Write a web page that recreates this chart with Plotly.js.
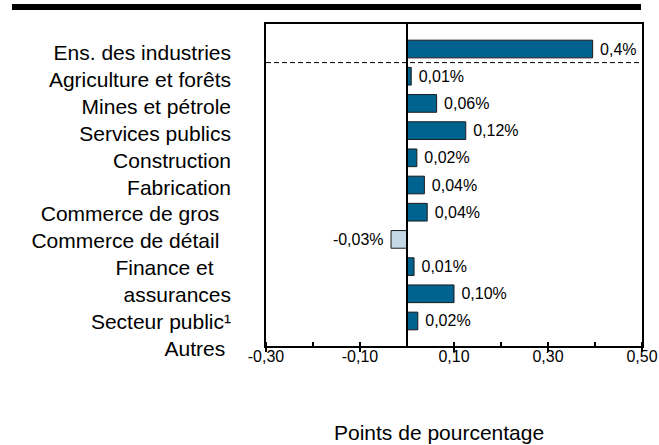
<!DOCTYPE html>
<html><head><meta charset="utf-8">
<script src="https://cdn.plot.ly/plotly-3.0.1.min.js"></script>
<style>html,body{margin:0;padding:0;background:#fff}#chart{width:659px;height:445px}</style>
</head><body><div id="chart"></div>
<script>
const rowLabels = ["Ens. des industries","Agriculture et forêts","Mines et pétrole","Services publics","Construction","Fabrication","Commerce de gros\u00a0\u00a0","Commerce de détail\u00a0\u00a0","Finance et\u00a0\u00a0\u00a0","assurances","Secteur public¹","Autres\u00a0"];
const barValues = [0.395, 0.009, 0.063, 0.125, 0.021, 0.037, 0.043, -0.034, 0.015, 0.100, 0.023];
const barLabels = ["0,4%","0,01%","0,06%","0,12%","0,02%","0,04%","0,04%","-0,03%","0,01%","0,10%","0,02%"];
const xTickVals = [-0.3, -0.1, 0.1, 0.3, 0.5];
const xTickText = ["-0,30","-0,10","0,10","0,30","0,50"];

const DARK = '#00628f', LIGHT = '#c4d9e5';
const barSlots = barValues.map((v, i) => i);
const rowSlots = rowLabels.map((v, i) => i);
const FONT = 'Arial, "Liberation Sans", sans-serif';

const traces = [
  {type:'bar', orientation:'h', x: barValues, y: barSlots, width: 0.65,
   marker:{color: barValues.map(v => v < 0 ? LIGHT : DARK), line:{color:'#1a1a1a', width:1}},
   text: barLabels.map((t, i) => barValues[i] < 0 ? t + '\u00a0' : '\u00a0' + t),
   textposition:'outside', constraintext:'none', cliponaxis:false,
   textfont:{size:16, color:'#000', family: FONT}, hoverinfo:'skip', showlegend:false},
  {type:'scatter', x:[0], y:[0], xaxis:'x', yaxis:'y2', mode:'markers', marker:{opacity:0}, hoverinfo:'skip', showlegend:false},
  {type:'scatter', x:[0], y:[0], xaxis:'x2', yaxis:'y', mode:'markers', marker:{opacity:0}, hoverinfo:'skip', showlegend:false}
];

const layout = {
  width:659, height:445,
  margin:{l:266, r:17, t:24, b:80},
  paper_bgcolor:'#fff', plot_bgcolor:'rgba(0,0,0,0)',
  font:{family: FONT, color:'#000'},
  showlegend:false,
  xaxis:{range:[-0.3, 0.5], tickmode:'array', tickvals: xTickVals, ticktext: xTickText,
    ticks:'outside', ticklen:4, tickwidth:1.5, tickcolor:'#000',
    showline:true, mirror:true, linecolor:'#000', linewidth:2,
    showgrid:false, zeroline:false, tickfont:{size:16, color:'#000'}, ticklabelstandoff:-9,
    minor:{tickmode:'linear', tick0:0, dtick:0.1, ticks:'inside', ticklen:4, tickwidth:1.5, tickcolor:'#000', showgrid:false},
    fixedrange:true},
  xaxis2:{overlaying:'x', anchor:'y', side:'bottom', range:[-0.3, 0.5], tickmode:'array', tickvals: xTickVals,
    ticks:'inside', ticklen:4, tickwidth:1.5, tickcolor:'#000', showticklabels:false,
    showline:false, showgrid:false, zeroline:false},
  yaxis:{domain:[0.0557, 1], range:[10.92, -0.92], showticklabels:false, ticks:'',
    showline:true, mirror:true, linecolor:'#000', linewidth:2, showgrid:false, zeroline:false, fixedrange:true},
  yaxis2:{domain:[0, 1], anchor:'free', position:0, range:[11.61, -1.067],
    tickmode:'array', tickvals: rowSlots, ticktext: rowLabels, ticks:'',
    showline:false, showgrid:false, zeroline:false,
    tickfont:{size:21, color:'#000'}, ticklabelstandoff:35},
  shapes:[
    {type:'rect', xref:'paper', yref:'paper', x0:-0.6755, x1:0.9973, y0:1.0411, y1:1.0587, fillcolor:'#000', line:{width:0}},
    {type:'line', xref:'paper', yref:'y', x0:0, x1:1.005, y0:0.5, y1:0.5, line:{color:'#000', width:1, dash:'5px,3px'}},
    {type:'line', xref:'x', yref:'paper', x0:0, x1:0, y0:0.0557, y1:1.006, line:{color:'#000', width:2}}
  ],
  annotations:[
    {text:'Points de pourcentage', xref:'paper', yref:'paper', x:0.46, y:-0.1994,
     xanchor:'center', yanchor:'middle', showarrow:false, font:{size:21, color:'#000'}}
  ]
};

Plotly.newPlot('chart', traces, layout, {staticPlot:true, displayModeBar:false});
</script>
</body></html>
